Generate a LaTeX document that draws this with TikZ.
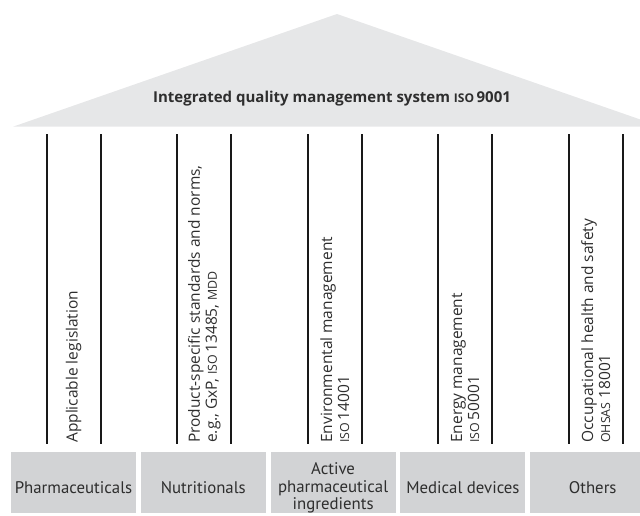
\documentclass[tikz,border=0pt]{standalone}
\usepackage{fontspec}
\setmainfont{Open Sans}
\newfontfamily\ptsans{PT Sans}
\definecolor{roofgray}{HTML}{E6E7E8}
\definecolor{bargray}{HTML}{D2D3D5}
\definecolor{inkgray}{HTML}{2E2E2E}
\newcommand{\minicaps}[1]{\scalebox{0.8}{#1}}

\begin{document}
\begin{tikzpicture}[x=1pt, y=-1pt,
  pillar/.style = {line width=1.8pt, draw=black!90},
  pillartext/.style = {rotate=90, anchor=west, inner sep=0pt, align=left,
    font=\fontsize{15.5}{17}\selectfont, text=inkgray},
  bar/.style = {fill=bargray, minimum width=125pt, minimum height=61pt,
    inner sep=0pt},
  bartext/.style = {align=center, inner sep=0pt,
    font=\ptsans\fontsize{16.8}{17.3}\selectfont, text=inkgray}]
  \useasboundingbox (0,0) rectangle (640,515);
  \clip (0,0) rectangle (640,515);
  % roof
  \fill[roofgray] (13,126.7) -- (337,14) -- (661,126.7) -- cycle;
  \node[anchor=base, inner sep=0pt, text=inkgray,
    font=\bfseries\fontsize{15}{17}\selectfont] (roof) at (332,102.7)
    {Integrated quality management system \minicaps{ISO}\,9001};
  % pillars
  \foreach \i/\name/\txt in {
      0/legislation/{Applicable legislation},
      1/product/{Product-specific standards and norms,\\e.g., GxP, \minicaps{ISO}\,13485, \minicaps{MDD}},
      2/environment/{Environmental management\\\minicaps{ISO}\,14001},
      3/energy/{Energy management\\\minicaps{ISO}\,50001},
      4/safety/{Occupational health and safety\\\minicaps{OHSAS} 18001}} {
    \draw[pillar] ({46.7+130.5*\i},134) -- ({46.7+130.5*\i},444);
    \draw[pillar] ({100.7+130.5*\i},134) -- ({100.7+130.5*\i},444);
    \node[pillartext] (\name) at ({73.7+130.5*\i},443) {\txt};
  }
  % foundation
  \foreach \j/\name/\txt in {
      0/pharma/Pharmaceuticals,
      1/nutri/Nutritionals,
      2/api/{Active\\pharmaceutical\\ingredients},
      3/medical/Medical devices,
      4/others/Others} {
    \node[bar] (\name) at ({73.5+129.8*\j},482.8) {};
    \node[bartext] (\name-label) at ([yshift=-5pt]\name.center) {\txt};
  }
\end{tikzpicture}
\end{document}
